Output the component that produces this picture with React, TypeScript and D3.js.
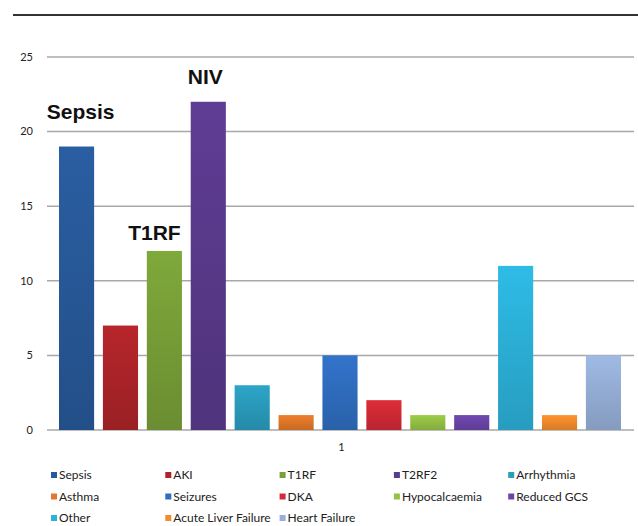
import React from "react";
import * as d3 from "d3";

const categories = ["Sepsis", "AKI", "T1RF", "T2RF2", "Arrhythmia", "Asthma", "Seizures", "DKA", "Hypocalcaemia", "Reduced GCS", "Other", "Acute Liver Failure", "Heart Failure"];
const values = [19, 7, 12, 22, 3, 1, 5, 2, 1, 1, 11, 1, 5];
const colors = ["#28599a", "#ad2429", "#78a038", "#5a3a8c", "#2a9cbe", "#e2782a", "#2f6ec0", "#d22a36", "#94c244", "#6b44a8", "#2cb2da", "#f28c2c", "#97b0d8"];
const yTicks = [0, 5, 10, 15, 20, 25];
const annotationCats = ["Sepsis", "T1RF", "T2RF2"];
const annotationTexts = ["Sepsis", "T1RF", "NIV"];
const annotationOffsets = [{ dx: 4, dy: -28 }, { dx: -10, dy: -11 }, { dx: -3, dy: -18 }];
const xLabel = "1";

const W = 638, H = 526;
const plotLeft = 47, plotRight = 634;

export default function App() {
  const y = d3.scaleLinear().domain([0, 25]).range([430, 57]);
  const x = d3.scaleBand().domain(categories).range([59, 621]).paddingInner(0.2).paddingOuter(0);
  const legendCols = 5;
  return (
    <svg width={W} height={H} style={{ position: "absolute", left: 0, top: 0, background: "#fff" }}>
      <defs>
        {colors.map((c, i) => (
          <linearGradient key={i} id={`g${i}`} x1="0" y1="0" x2="0" y2="1">
            <stop offset="0%" stopColor={d3.color(c)!.brighter(0.15).toString()} />
            <stop offset="100%" stopColor={d3.color(c)!.darker(0.35).toString()} />
          </linearGradient>
        ))}
      </defs>
      <line x1={13} x2={638} y1={15} y2={15} stroke="#333" strokeWidth={2} />
      {yTicks.map((t) => (
        <g key={t}>
          <line x1={plotLeft} x2={plotRight} y1={y(t)} y2={y(t)} stroke="#a8a8a8" strokeWidth={1.5} />
          <text x={33} y={y(t)} dy="0.35em" textAnchor="end" fontFamily="Lato, sans-serif" fontSize={11} fill="#222">{t}</text>
        </g>
      ))}
      {categories.map((c, i) => (
        <rect key={c} x={x(c)!} width={x.bandwidth()} y={y(values[i])} height={y(0) - y(values[i])} fill={`url(#g${i})`} />
      ))}
      {annotationCats.map((cat, k) => {
        const i = categories.indexOf(cat);
        return (
          <text key={cat} x={x(cat)! + x.bandwidth() / 2 + annotationOffsets[k].dx} y={y(values[i]) + annotationOffsets[k].dy} textAnchor="middle" fontFamily="Liberation Sans, Arial, sans-serif" fontWeight="bold" fontSize={21} fill="#111">{annotationTexts[k]}</text>
        );
      })}
      <text x={(plotLeft + plotRight) / 2 + 1} y={447} dy="0.35em" textAnchor="middle" fontFamily="Lato, sans-serif" fontSize={11} fill="#222">{xLabel}</text>
      {categories.map((c, i) => {
        const col = i % legendCols, row = Math.floor(i / legendCols);
        const lx = 51 + col * 114.3, ly = 475 + row * 21.5;
        return (
          <g key={c}>
            <rect x={lx} y={ly - 3} width={6} height={6} fill={colors[i]} />
            <text x={lx + 8} y={ly} dy="0.35em" fontFamily="Lato, sans-serif" fontSize={12} fill="#222">{c}</text>
          </g>
        );
      })}
    </svg>
  );
}
